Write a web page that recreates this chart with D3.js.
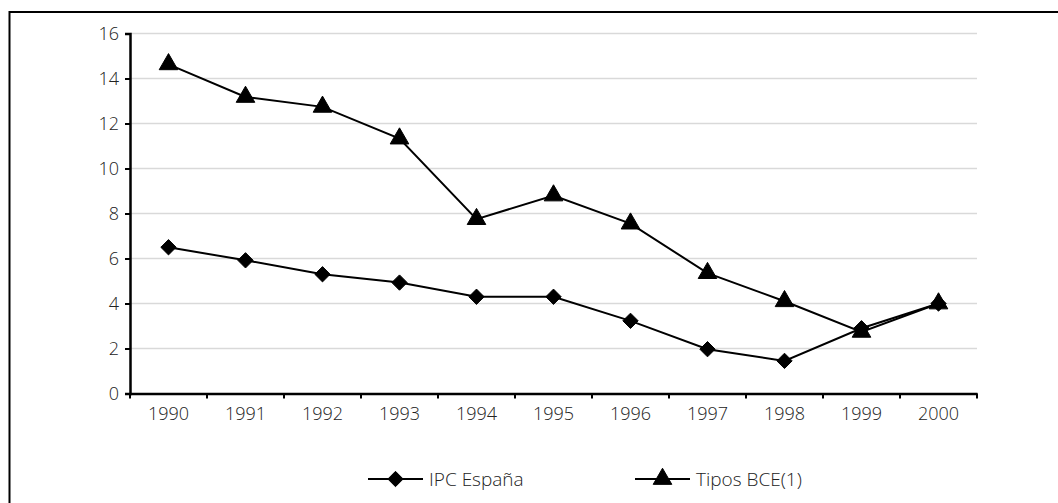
<!DOCTYPE html>
<head>
  <meta charset="utf-8">
  <title>IPC España y Tipos BCE</title>
  <script src="https://d3js.org/d3.v7.min.js"></script>
  <style>
    body { margin: 0; background: #fff; }
    text { font-family: "Open Sans", "DejaVu Sans", sans-serif; font-weight: 300; fill: #222; }
  </style>
</head>
<body>
<svg width="1058" height="503"></svg>
<script>

// the data
var years = ["1990", "1991", "1992", "1993", "1994", "1995", "1996", "1997", "1998", "1999", "2000"];
var ipc = [6.5, 5.92, 5.3, 4.93, 4.3, 4.3, 3.23, 1.97, 1.45, 2.9, 4.0];
var tipos = [14.63, 13.18, 12.74, 11.33, 7.75, 8.8, 7.55, 5.35, 4.1, 2.74, 4.0];
var yTicks = [0, 2, 4, 6, 8, 10, 12, 14, 16];
var seriesNames = ["IPC España", "Tipos BCE(1)"];

var svg = d3.select("svg");

// outer frame, runs off the right and bottom edge like the original
svg.append("rect")
  .attr("x", 9.5).attr("y", 12)
  .attr("width", 1100).attr("height", 600)
  .attr("fill", "none").attr("stroke", "#000").attr("stroke-width", 2);

// note: "top" is taken by window.top, so plotTop etc.
var plotLeft = 130, plotRight = 977, plotTop = 33.5, plotBottom = 393.5;

var x = d3.scaleBand().domain(years).range([plotLeft, plotRight]);
var y = d3.scaleLinear().domain([0, 16]).range([plotBottom, plotTop]);

// gridlines
svg.append("g")
  .selectAll("line")
  .data(yTicks.filter(function(d) { return d > 0; }))
  .join("line")
  .attr("x1", plotLeft).attr("x2", plotRight)
  .attr("y1", function(d) { return y(d); })
  .attr("y2", function(d) { return y(d); })
  .attr("stroke", "#d9d9d9").attr("stroke-width", 1.5);

// y axis
var yAxis = svg.append("g")
  .attr("transform", "translate(" + plotLeft + ",0)")
  .call(d3.axisLeft(y).tickValues(yTicks).tickSize(5).tickPadding(6).tickFormat(d3.format("d")));

// x axis - ticks sit between the categories
var xAxis = svg.append("g")
  .attr("transform", "translate(0," + plotBottom + ")")
  .call(d3.axisBottom(x).tickSize(0).tickPadding(14));

xAxis.selectAll(".tickmark")
  .data(d3.range(years.length + 1))
  .join("line")
  .attr("class", "tickmark")
  .attr("x1", function(i) { return plotLeft + i * x.step(); })
  .attr("x2", function(i) { return plotLeft + i * x.step(); })
  .attr("y1", 0).attr("y2", 5)
  .attr("stroke", "#000").attr("stroke-width", 2);

[yAxis, xAxis].forEach(function(ax) {
  ax.select(".domain").attr("stroke", "#000").attr("stroke-width", 2.5);
  ax.selectAll(".tick line").attr("stroke", "#000").attr("stroke-width", 2);
  ax.selectAll("text")
    .attr("font-size", 18).attr("font-family", null)
    .style("fill", "#222");
});

var cx = function(d, i) { return x(years[i]) + x.bandwidth() / 2; };

var line = d3.line()
  .x(function(d, i) { return cx(d, i); })
  .y(function(d) { return y(d); });

var diamond = d3.symbol().type(d3.symbolDiamond2).size(150);
var triangle = d3.symbol().type(d3.symbolTriangle).size(150);

function drawSeries(values, sym) {
  svg.append("path")
    .datum(values)
    .attr("d", line)
    .attr("fill", "none").attr("stroke", "#000").attr("stroke-width", 2);

  svg.append("g")
    .selectAll("path")
    .data(values)
    .join("path")
    .attr("d", sym)
    .attr("transform", function(d, i) { return "translate(" + cx(d, i) + "," + y(d) + ")"; })
    .attr("fill", "#000").attr("stroke", "#000").attr("stroke-width", 1);
}

drawSeries(ipc, diamond);
drawSeries(tipos, triangle);

// legend
var legendY = 479;
var legendItems = [
  { name: seriesNames[0], x: 368, sym: diamond },
  { name: seriesNames[1], x: 635, sym: triangle }
];

var lg = svg.append("g").selectAll("g").data(legendItems).join("g")
  .attr("transform", function(d) { return "translate(" + d.x + "," + legendY + ")"; });

lg.append("line")
  .attr("x1", 0).attr("x2", 55)
  .attr("stroke", "#000").attr("stroke-width", 2);

lg.append("path")
  .attr("d", function(d) { return d.sym(); })
  .attr("transform", "translate(27.5,0)")
  .attr("fill", "#000").attr("stroke", "#000");

lg.append("text")
  .attr("x", 61).attr("dy", "0.35em")
  .attr("font-size", 19)
  .style("fill", "#222")
  .text(function(d) { return d.name; });

</script>
</body>
</html>
